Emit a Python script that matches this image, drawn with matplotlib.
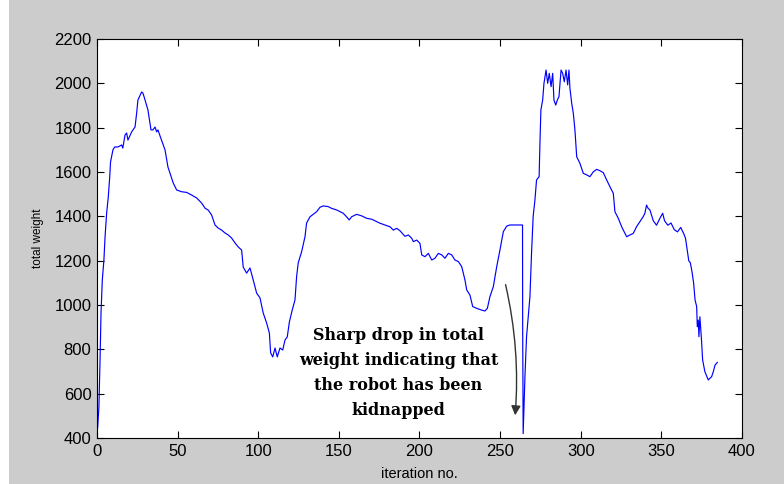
#!/usr/bin/env python3
"""out.png — total weight vs iteration, kidnapped robot drop. MATLAB-ish look."""
import matplotlib
matplotlib.use("agg")
import matplotlib.pyplot as plt
from matplotlib.patches import Rectangle

GRAY = "#cccccc"; LINE = "#0000ff"; INK = "#000000"
plt.rcParams["font.family"] = ["Liberation Sans", "DejaVu Sans"]

# iteration, total weight
iteration = [0.0, 0.4, 1.2, 1.9, 2.5, 3.3, 4.3, 5.0, 6.0, 7.0, 7.9, 8.4, 9.9, 11.0, 13.0,
             15.3, 16.0, 17.4, 18.4, 19.2, 21.5, 23.6, 24.6, 25.4, 27.7, 28.5, 29.8, 31.6,
             33.5, 34.7, 36.0, 37.0, 37.8, 40.0, 42.2, 44.0, 47.3, 49.4, 52.5, 55.6, 58.7,
             61.8, 64.9, 67.0, 69.0, 71.1, 73.2, 75.2, 77.3, 79.4, 81.4, 83.5, 85.6, 87.6,
             89.7, 90.7, 92.8, 94.9, 96.9, 99.0, 101.1, 103.1, 105.2, 106.9, 107.7, 109.0,
             110.4, 111.8, 113.5, 115.2, 116.6, 118.0, 119.3, 121.0, 122.8, 123.8, 124.8,
             126.9, 129.0, 130.0, 132.1, 134.1, 136.2, 138.3, 140.3, 143.4, 145.5, 148.6,
             152.7, 154.8, 156.4, 157.9, 161.0, 164.2, 167.3, 170.4, 173.5, 175.5, 178.6,
             181.7, 183.8, 185.9, 187.9, 191.0, 193.1, 195.2, 196.2, 198.3, 200.3, 201.4,
             203.4, 205.5, 207.6, 209.6, 211.7, 213.8, 215.8, 217.9, 220.0, 222.0, 224.1,
             226.2, 228.2, 229.3, 231.3, 233.0, 235.5, 238.6, 240.6, 242.1, 243.7, 245.8,
             247.9, 249.9, 252.0, 254.1, 256.1, 263.9, 264.0, 264.3, 265.4, 266.4, 268.5,
             269.5, 270.5, 271.6, 272.6, 274.2, 274.7, 275.3, 276.4, 277.2, 278.5, 279.5,
             280.5, 281.6, 282.6, 283.4, 284.5, 285.5, 286.5, 287.8, 288.8, 289.8, 290.9,
             291.9, 292.7, 293.3, 294.4, 295.4, 296.4, 297.5, 299.5, 301.6, 303.7, 305.7,
             307.8, 309.9, 311.9, 314.0, 316.1, 318.1, 320.2, 321.2, 323.3, 325.4, 326.4,
             328.5, 330.5, 332.6, 334.6, 336.7, 338.7, 339.8, 340.8, 341.8, 342.9, 345.0,
             347.0, 349.1, 350.8, 352.0, 354.0, 356.0, 358.0, 360.0, 362.0, 364.0, 365.0,
             366.0, 367.0, 368.0, 369.0, 370.0, 370.9, 371.9, 372.3, 372.9, 373.3, 373.9,
             374.9, 375.6, 377.0, 379.1, 381.2, 382.2, 383.3, 384.7]
weight = [440, 445, 540, 752, 964, 1113, 1203, 1307, 1415, 1487, 1577, 1645, 1700, 1713, 1713,
          1722, 1708, 1767, 1776, 1744, 1781, 1803, 1866, 1925, 1961, 1956, 1925, 1880,
          1790, 1790, 1803, 1781, 1790, 1744, 1700, 1623, 1550, 1519, 1511, 1508, 1496,
          1483, 1460, 1437, 1428, 1406, 1361, 1347, 1338, 1325, 1316, 1302, 1280, 1262,
          1248, 1171, 1144, 1167, 1113, 1054, 1032, 964, 919, 874, 784, 766,
          806, 766, 806, 797, 842, 856, 923, 975, 1023, 1128, 1190,
          1240, 1308, 1370, 1398, 1409, 1421, 1441, 1447, 1444, 1436, 1429,
          1414, 1398, 1384, 1398, 1409, 1402, 1391, 1387, 1376, 1369, 1361,
          1353, 1338, 1346, 1335, 1310, 1316, 1301, 1286, 1293, 1278, 1226,
          1218, 1233, 1203, 1211, 1233, 1226, 1211, 1233, 1226, 1203, 1196,
          1173, 1113, 1068, 1045, 993, 985, 977, 973, 985, 1038, 1083,
          1173, 1248, 1331, 1356, 1361, 1361, 895, 420, 677, 857, 1038,
          1235, 1400, 1474, 1564, 1579, 1730, 1880, 1925, 2000, 2060, 2000,
          2045, 1985, 2045, 1925, 1902, 1925, 1940, 2060, 2045, 2007, 2060,
          1993, 2060, 1978, 1910, 1865, 1790, 1669, 1639, 1594, 1587, 1579,
          1601, 1612, 1606, 1597, 1564, 1534, 1504, 1421, 1391, 1353, 1338,
          1308, 1316, 1323, 1353, 1376, 1398, 1414, 1451, 1436, 1429, 1380,
          1360, 1391, 1414, 1380, 1360, 1370, 1340, 1330, 1350, 1320, 1300,
          1250, 1200, 1190, 1150, 1100, 1023, 993, 902, 932, 857, 947,
          842, 752, 699, 662, 677, 699, 729, 741]

note = "Sharp drop in total\nweight indicating that\nthe robot has been\nkidnapped"

fig = plt.figure(figsize=(7.84, 4.84), dpi=100, facecolor=GRAY)
# thin white margin on the left edge, as in the screenshot
fig.patches.append(Rectangle((0, 0), 9 / 784, 1, transform=fig.transFigure,
                             facecolor="white", edgecolor="none"))
ax = fig.add_axes([0.1237, 0.095, 0.8227, 0.8244])
ax.plot(iteration, weight, color=LINE, lw=0.85)

ax.set_xlim(0, 400); ax.set_ylim(400, 2200)
ax.set_xticks(range(0, 401, 50)); ax.set_yticks(range(400, 2201, 200))
ax.tick_params(direction="in", length=5, width=0.8, top=True, right=True,
               labelsize=12, colors=INK, pad=4)
for s in ax.spines.values():
    s.set_linewidth(0.8)
ax.set_xlabel("iteration no.", fontsize=10.5, labelpad=6)
ax.set_ylabel("total weight", fontsize=8.5, labelpad=7)

ax.text(187, 695, note, ha="center", va="center", fontsize=11.5, fontweight="bold",
        family="DejaVu Serif", linespacing=1.62, color=INK)
ax.annotate("", xy=(259.2, 490), xytext=(253, 1104),
            arrowprops=dict(arrowstyle="-|>", color="#333333", lw=1.0,
                            mutation_scale=14, connectionstyle="arc3,rad=-0.08"))

fig.savefig("out.png", dpi=100, facecolor=GRAY)
print("wrote out.png")
